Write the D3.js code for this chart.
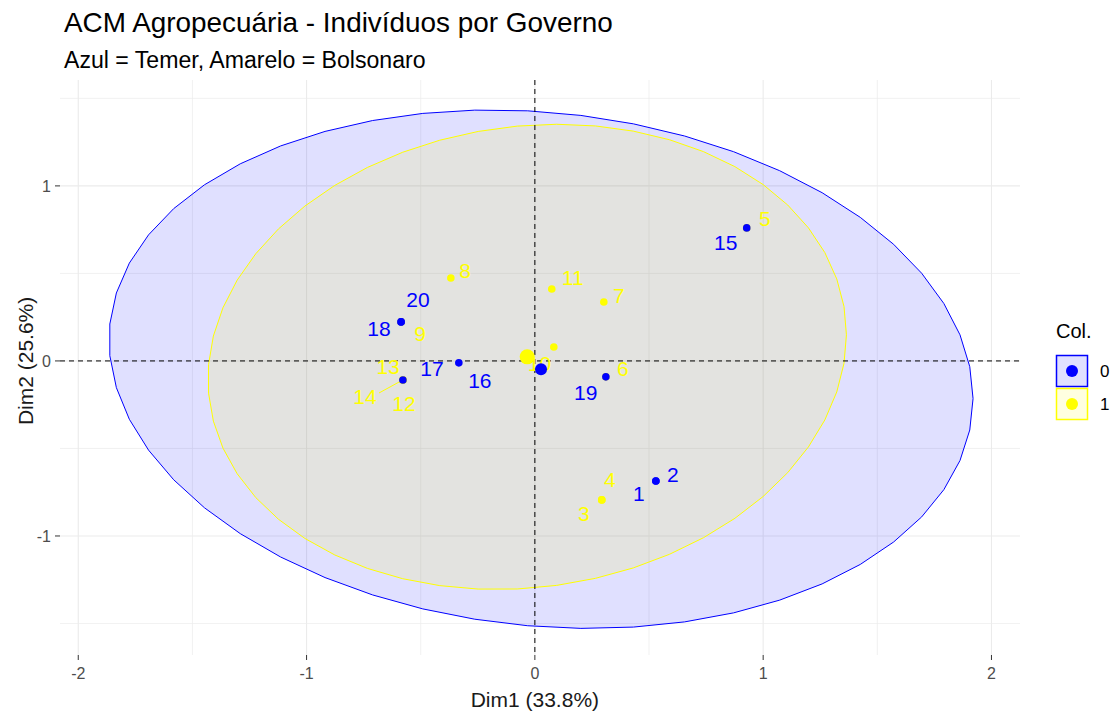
<!DOCTYPE html>
<html>
<head>
<meta charset="utf-8">
<script src="https://cdn.jsdelivr.net/npm/d3@7"></script>
<style>
  body { margin: 0; background: #fff; }
  svg { font-family: "Liberation Sans", Arial, sans-serif; }
</style>
</head>
<body>
<svg id="chart" width="1117" height="713"></svg>
<script>
// ----------------- DATA ----------------- //
const ids    = ["1","2","3","4","5","6","7","8","9","10","11","12","13","14","15","16","17","18","19","20"];
const dim1   = [0.53, 0.53, 0.293, 0.293, 0.928, 0.311, 0.302, -0.368, -0.586, 0.083, 0.074, -0.578, -0.578, -0.578, 0.928, -0.333, -0.578, -0.586, 0.311, -0.586];
const dim2   = [-0.686, -0.686, -0.794, -0.794, 0.76, -0.091, 0.337, 0.474, 0.223, 0.08, 0.411, -0.109, -0.109, -0.109, 0.76, -0.011, -0.109, 0.223, -0.091, 0.223];
const groups = ["0","0","1","1","1","1","1","1","1","1","1","1","1","1","0","0","0","0","0","0"];
// where the repelled labels ended up (data units)
const labelX = [0.455, 0.604, 0.214, 0.328, 1.007, 0.385, 0.368, -0.306, -0.503, 0.02, 0.166, -0.573, -0.643, -0.744, 0.836, -0.241, -0.451, -0.683, 0.223, -0.512];
const labelY = [-0.76, -0.646, -0.869, -0.68, 0.811, -0.046, 0.371, 0.514, 0.154, -0.017, 0.474, -0.246, -0.029, -0.206, 0.674, -0.109, -0.046, 0.183, -0.183, 0.349];
const groupNames = ["0", "1"];
const xTicks = [-2, -1, 0, 1, 2];
const yTicks = [-1, 0, 1];
const xLimits = [-2.08, 2.125];
const yLimits = [-1.68, 1.605];

const colors = { "0": "#0000FF", "1": "#FFFF00" };
const fills  = { "0": "rgba(0,0,255,0.12)", "1": "rgba(255,255,0,0.12)" };

const svg = d3.select("#chart");
const panel = { left: 60, right: 1020, top: 80, bottom: 655 };

const points = ids.map((id, i) => ({ id: id, x: dim1[i], y: dim2[i], g: groups[i], lx: labelX[i], ly: labelY[i] }));

// ----------------- ELLIPSES (stat_ellipse, type norm, level 0.95) ----------------- //
function normEllipse(pts) {
    const n = pts.length;
    const mx = d3.mean(pts, d => d.x), my = d3.mean(pts, d => d.y);
    let a = 0, b = 0, c = 0;
    pts.forEach(d => {
        a += (d.x - mx) * (d.x - mx);
        b += (d.x - mx) * (d.y - my);
        c += (d.y - my) * (d.y - my);
    });
    a /= (n - 1); b /= (n - 1); c /= (n - 1);
    const m = n - 1;
    const fq = m / 2 * (Math.pow(0.05, -2 / m) - 1); // qf(0.95, 2, n-1)
    const r = Math.sqrt(2 * fq);
    const r11 = Math.sqrt(a), r12 = b / r11, r22 = Math.sqrt(c - r12 * r12);
    const out = [];
    for (let k = 0; k <= 51; k++) {
        const t = 2 * Math.PI * k / 51;
        const u = Math.cos(t), v = Math.sin(t);
        out.push([mx + r * u * r11, my + r * (u * r12 + v * r22)]);
    }
    return { mean: [mx, my], path: out };
}

const ells = groupNames.map(g => ({ g: g, ...normEllipse(points.filter(d => d.g === g)) }));

const x = d3.scaleLinear().domain(xLimits).range([panel.left, panel.right]);
const y = d3.scaleLinear().domain(yLimits).range([panel.bottom, panel.top]);

// ----------------- GRID ----------------- //
const grid = svg.append("g");
const minorX = d3.range(-2, 2.01, 0.5);
const minorY = d3.range(-1.5, 1.51, 0.5);
grid.selectAll("line.gx").data(minorX).join("line")
    .attr("x1", d => x(d)).attr("x2", d => x(d))
    .attr("y1", panel.top).attr("y2", panel.bottom)
    .attr("stroke", "#ebebeb").attr("stroke-width", d => Number.isInteger(d) ? 1.1 : 0.7);
grid.selectAll("line.gy").data(minorY).join("line")
    .attr("y1", d => y(d)).attr("y2", d => y(d))
    .attr("x1", panel.left).attr("x2", panel.right)
    .attr("stroke", "#ebebeb").attr("stroke-width", d => Number.isInteger(d) ? 1.1 : 0.7);

// ----------------- ELLIPSE POLYGONS ----------------- //
const line = d3.line().x(p => x(p[0])).y(p => y(p[1]));
svg.append("g").selectAll("path").data(ells).join("path")
    .attr("d", d => line(d.path) + "Z")
    .attr("fill", d => fills[d.g])
    .attr("stroke", d => colors[d.g])
    .attr("stroke-width", 1);

// ----------------- REFERENCE LINES ----------------- //
svg.append("line").attr("x1", x(0)).attr("x2", x(0)).attr("y1", panel.top).attr("y2", panel.bottom)
    .attr("stroke", "#000").attr("stroke-dasharray", "5,4").attr("stroke-width", 1);
svg.append("line").attr("y1", y(0)).attr("y2", y(0)).attr("x1", panel.left).attr("x2", panel.right)
    .attr("stroke", "#000").attr("stroke-dasharray", "5,4").attr("stroke-width", 1);

// ----------------- POINTS + LABELS ----------------- //
const order = groupNames.slice().reverse(); // yellow under blue
order.forEach(g => {
    const pts = points.filter(d => d.g === g);
    const lay = svg.append("g");
    lay.selectAll("line").data(pts.filter(d => d.id === "14")).join("line")
        .attr("x1", d => x(d.lx) + 14).attr("y1", d => y(d.ly) - 4)
        .attr("x2", d => x(d.x) - 2).attr("y2", d => y(d.y) + 1)
        .attr("stroke", colors[g]).attr("stroke-width", 1);
    lay.selectAll("circle").data(pts).join("circle")
        .attr("cx", d => x(d.x)).attr("cy", d => y(d.y)).attr("r", 3.8)
        .attr("fill", colors[g]);
    lay.selectAll("text").data(pts).join("text")
        .attr("x", d => x(d.lx)).attr("y", d => y(d.ly))
        .attr("text-anchor", "middle").attr("dominant-baseline", "central")
        .attr("font-size", 21).attr("fill", colors[g])
        .text(d => d.id);
});

// group mean points
svg.append("g").selectAll("circle").data(ells.slice().reverse()).join("circle")
    .attr("cx", d => x(d.mean[0])).attr("cy", d => y(d.mean[1]))
    .attr("r", d => d.g === "1" ? 7.5 : 6)
    .attr("fill", d => colors[d.g]);

// ----------------- AXES ----------------- //
const axG = svg.append("g").attr("fill", "#4d4d4d").attr("font-size", 16);
axG.selectAll("line.xt").data(xTicks).join("line")
    .attr("x1", d => x(d)).attr("x2", d => x(d))
    .attr("y1", panel.bottom).attr("y2", panel.bottom + 5)
    .attr("stroke", "#333").attr("stroke-width", 1);
axG.selectAll("text.xt").data(xTicks).join("text")
    .attr("x", d => x(d)).attr("y", panel.bottom + 24)
    .attr("text-anchor", "middle").text(d => d);
axG.selectAll("line.yt").data(yTicks).join("line")
    .attr("x1", panel.left - 5).attr("x2", panel.left)
    .attr("y1", d => y(d)).attr("y2", d => y(d))
    .attr("stroke", "#333").attr("stroke-width", 1);
axG.selectAll("text.yt").data(yTicks).join("text")
    .attr("x", panel.left - 9).attr("y", d => y(d) + 6)
    .attr("text-anchor", "end").text(d => d);

svg.append("text").attr("x", x(0)).attr("y", 707)
    .attr("text-anchor", "middle").attr("font-size", 21).attr("fill", "#1a1a1a")
    .text("Dim1 (33.8%)");
svg.append("text").attr("transform", "translate(33," + y(0) + ") rotate(-90)")
    .attr("text-anchor", "middle").attr("font-size", 21).attr("fill", "#1a1a1a")
    .text("Dim2 (25.6%)");

// ----------------- TITLES ----------------- //
svg.append("text").attr("x", 64).attr("y", 32).attr("font-size", 27.9).attr("fill", "#000")
    .text("ACM Agropecuária - Indivíduos por Governo");
svg.append("text").attr("x", 64).attr("y", 68).attr("font-size", 23.1).attr("fill", "#000")
    .text("Azul = Temer, Amarelo = Bolsonaro");

// ----------------- LEGEND ----------------- //
const leg = svg.append("g").attr("transform", "translate(1056,330)");
leg.append("text").attr("x", 0).attr("y", 8).attr("font-size", 20).attr("fill", "#000").text("Col.");
const keys = leg.selectAll("g.key").data(groupNames).join("g")
    .attr("transform", (d, i) => "translate(0," + (25 + i * 33) + ")");
keys.append("rect").attr("x", 0.5).attr("y", 0.5).attr("width", 31).attr("height", 31)
    .attr("fill", d => fills[d]).attr("stroke", d => colors[d]).attr("stroke-width", 1.5);
keys.append("circle").attr("cx", 16).attr("cy", 16).attr("r", 6).attr("fill", d => colors[d]);
keys.append("text").attr("x", 44).attr("y", 22).attr("font-size", 17).attr("fill", "#000").text(d => d);
</script>
</body>
</html>
